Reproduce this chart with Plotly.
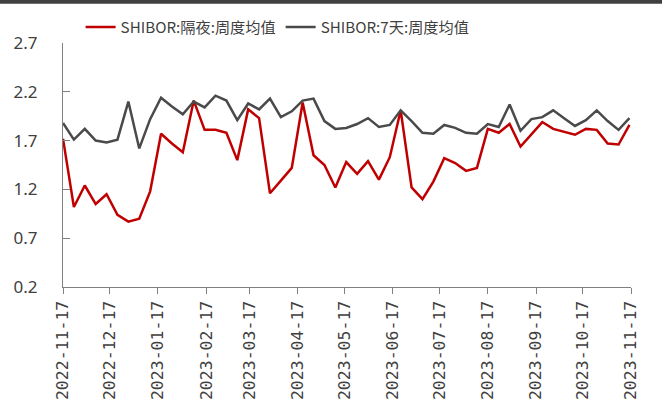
import pandas as pd
import plotly.graph_objects as go

dates = pd.date_range("2022-11-17", periods=53, freq="7D")

shibor_on = [1.72, 1.02, 1.24, 1.05, 1.15, 0.94, 0.87, 0.90, 1.18, 1.77,
             1.67, 1.58, 2.11, 1.81, 1.81, 1.78, 1.50, 2.02, 1.93, 1.16,
             1.29, 1.42, 2.09, 1.55, 1.45, 1.22, 1.48, 1.36, 1.49, 1.30,
             1.53, 2.01, 1.22, 1.10, 1.28, 1.52, 1.47, 1.39, 1.42, 1.82,
             1.78, 1.87, 1.64, 1.76, 1.89, 1.82, 1.79, 1.76, 1.82, 1.81,
             1.67, 1.66, 1.86]

shibor_7d = [1.88, 1.71, 1.82, 1.70, 1.68, 1.71, 2.10, 1.62, 1.92, 2.14,
             2.05, 1.97, 2.10, 2.04, 2.16, 2.11, 1.91, 2.08, 2.02, 2.13,
             1.94, 2.00, 2.11, 2.13, 1.90, 1.82, 1.83, 1.87, 1.93, 1.84,
             1.86, 2.01, 1.90, 1.78, 1.77, 1.86, 1.83, 1.78, 1.77, 1.87,
             1.84, 2.07, 1.80, 1.92, 1.94, 2.01, 1.93, 1.85, 1.91, 2.01,
             1.90, 1.81, 1.93]

tick_dates = ["2022-11-17", "2022-12-17", "2023-01-17", "2023-02-17", "2023-03-17",
              "2023-04-17", "2023-05-17", "2023-06-17", "2023-07-17", "2023-08-17",
              "2023-09-17", "2023-10-17", "2023-11-17"]

names = ["SHIBOR:隔夜:周度均值", "SHIBOR:7天:周度均值"]
colors = ["#C00000", "#4A4A4A"]

fig = go.Figure()
fig.add_trace(go.Scatter(x=dates, y=shibor_on, mode="lines", name=names[0],
                         line=dict(color=colors[0], width=2.5)))
fig.add_trace(go.Scatter(x=dates, y=shibor_7d, mode="lines", name=names[1],
                         line=dict(color=colors[1], width=2.5)))

txt = "#404040"
fig.update_layout(
    width=662, height=410,
    margin=dict(l=63, r=31, t=43, b=123, autoexpand=False),
    paper_bgcolor="white", plot_bgcolor="white",
    font=dict(family="Noto Sans CJK SC, Noto Sans", color=txt, size=15),
    showlegend=True,
    legend=dict(orientation="h", x=0.031, y=1.065, xanchor="left", yanchor="middle",
                font=dict(size=15.2, color=txt), bgcolor="rgba(0,0,0,0)"),
    shapes=[dict(type="rect", xref="paper", yref="paper", x0=-0.2, x1=1.2,
                 y0=1.161, y1=1.25, fillcolor="#404040", line=dict(width=0))],
)
fig.update_xaxes(
    type="date", range=["2022-11-17", "2023-11-17"], automargin=False,
    tickvals=tick_dates, tickformat="%Y-%m-%d", tickangle=-90,
    ticks="outside", ticklen=6, tickcolor="#808080", tickwidth=1.3,
    showline=True, linecolor="#808080", linewidth=1.3,
    showgrid=False, zeroline=False,
    tickfont=dict(family="DejaVu Sans Mono", size=16.5, color=txt),
)
fig.update_yaxes(
    range=[0.2, 2.7], tickvals=[0.2, 0.7, 1.2, 1.7, 2.2, 2.7], tickformat=".1f",
    automargin=False,
    ticks="inside", ticklen=7, tickcolor="#808080", tickwidth=1.3,
    showline=True, linecolor="#808080", linewidth=1.3,
    showgrid=False, zeroline=False, ticklabelstandoff=21,
    tickfont=dict(family="Noto Sans", size=17, color=txt),
)

fig.write_html("out.html", config={"displayModeBar": False},
               post_script="document.body.style.margin='0';")
